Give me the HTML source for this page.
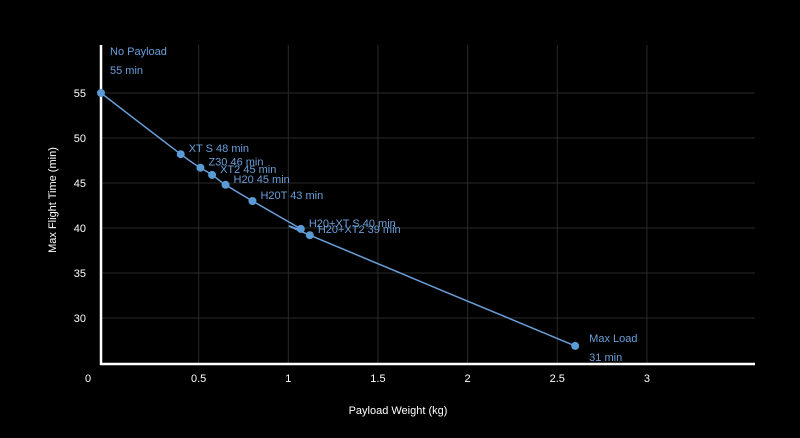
<!DOCTYPE html>
<html><head><meta charset="utf-8"><style>
html,body{margin:0;padding:0;background:#000;}
svg{display:block;font-family:"Liberation Sans",sans-serif;}
</style></head><body>
<svg id="chart" width="800" height="438">
<rect width="800" height="438" fill="#000"/>
<g id="grid"></g>
<g id="ticks"></g>
<line x1="101" y1="45" x2="101" y2="365" stroke="#fff" stroke-width="2.5"/>
<line x1="100" y1="364" x2="755" y2="364" stroke="#fff" stroke-width="2.5"/>
<path id="curve" fill="none" stroke="#6a9fd8" stroke-width="1.5"/>
<g id="points"></g>
<text x="56" y="200" transform="rotate(-90 56 200)" text-anchor="middle" fill="#fff" font-size="11">Max Flight Time (min)</text>
<text x="398" y="414" text-anchor="middle" fill="#fff" font-size="11">Payload Weight (kg)</text>
</svg>
<script>
const names=["No Payload","XT S","Z30","XT2","H20","H20T","H20+XT S","H20+XT2","Max Load"];
const labels=["55 min","XT S 48 min","Z30 46 min","XT2 45 min","H20 45 min","H20T 43 min","H20+XT S 40 min","H20+XT2 39 min","31 min"];
const xVals=[0,0.40,0.51,0.575,0.65,0.80,1.07,1.12,2.60];
const yVals=[55,48.2,46.7,45.9,44.8,43.0,39.9,39.2,26.9];
const xTicks=[0,0.5,1,1.5,2,2.5,3];
const xTickLabels=["0","0.5","1","1.5","2","2.5","3"];
const yTicks=[30,35,40,45,50,55];
const yTickLabels=["30","35","40","45","50","55"];
const NS="http://www.w3.org/2000/svg";
function xs(v){return v===0?101:109+v*179.3;}
function ys(v){return 93+(55-v)*9;}
function mk(tag,attrs,parent){const e=document.createElementNS(NS,tag);for(const k in attrs)e.setAttribute(k,attrs[k]);parent.appendChild(e);return e;}
const grid=document.getElementById('grid'),ticks=document.getElementById('ticks'),pts=document.getElementById('points');
xTicks.forEach((t,i)=>{
  if(t>0){const l=mk('line',{x1:xs(t),x2:xs(t),y1:45,y2:364,stroke:'#2a2a2a','stroke-width':1},grid);
  
  }
  const tx=mk('text',{x:t===0?88:xs(t),y:382,'text-anchor':'middle',fill:'#fff','font-size':11},ticks);
  tx.textContent=xTickLabels[i];
  
  
});
yTicks.forEach((t,i)=>{
  const l=mk('line',{x1:101,x2:755,y1:ys(t),y2:ys(t),stroke:'#2a2a2a','stroke-width':1},grid);
  
  
  const tx=mk('text',{x:86,y:ys(t)+4,'text-anchor':'end',fill:'#fff','font-size':11},ticks);
  tx.textContent=yTickLabels[i];
  
  
});
const P=xVals.map((x,i)=>[xs(x),ys(yVals[i])]);
let d='M'+P[0][0]+','+P[0][1];
for(let i=0;i<P.length-1;i++){
  const p0=P[Math.max(0,i-1)],p1=P[i],p2=P[i+1],p3=P[Math.min(P.length-1,i+2)];
  const c1=[p1[0]+(p2[0]-p0[0])/6,p1[1]+(p2[1]-p0[1])/6],c2=[p2[0]-(p3[0]-p1[0])/6,p2[1]-(p3[1]-p1[1])/6];
  d+=` C${c1[0]},${c1[1]} ${c2[0]},${c2[1]} ${p2[0]},${p2[1]}`;
}
document.getElementById('curve').setAttribute('d',d);
P.forEach((p,i)=>{
  const c=mk('circle',{cx:p[0],cy:p[1],r:4,fill:'#5b9bd5'},pts);
  
  
  const last=i===P.length-1;
  if(i===0){
    const t1=mk('text',{x:110,y:55,fill:'#6a9fd8','font-size':11},pts);t1.textContent=names[0];
    
    
    const t2=mk('text',{x:110,y:74,fill:'#6a9fd8','font-size':11},pts);t2.textContent=labels[0];
    
    
  } else if(last){
    const t1=mk('text',{x:p[0]+14,y:p[1]-4,fill:'#6a9fd8','font-size':11},pts);t1.textContent=names[i];
    
    
    const t2=mk('text',{x:p[0]+14,y:p[1]+15,fill:'#6a9fd8','font-size':11},pts);t2.textContent=labels[i];
    
    
  } else {
    const t=mk('text',{x:p[0]+8,y:p[1]-2,fill:'#6a9fd8','font-size':11},pts);t.textContent=labels[i];
    
    
  }
});
</script>
</body></html>
